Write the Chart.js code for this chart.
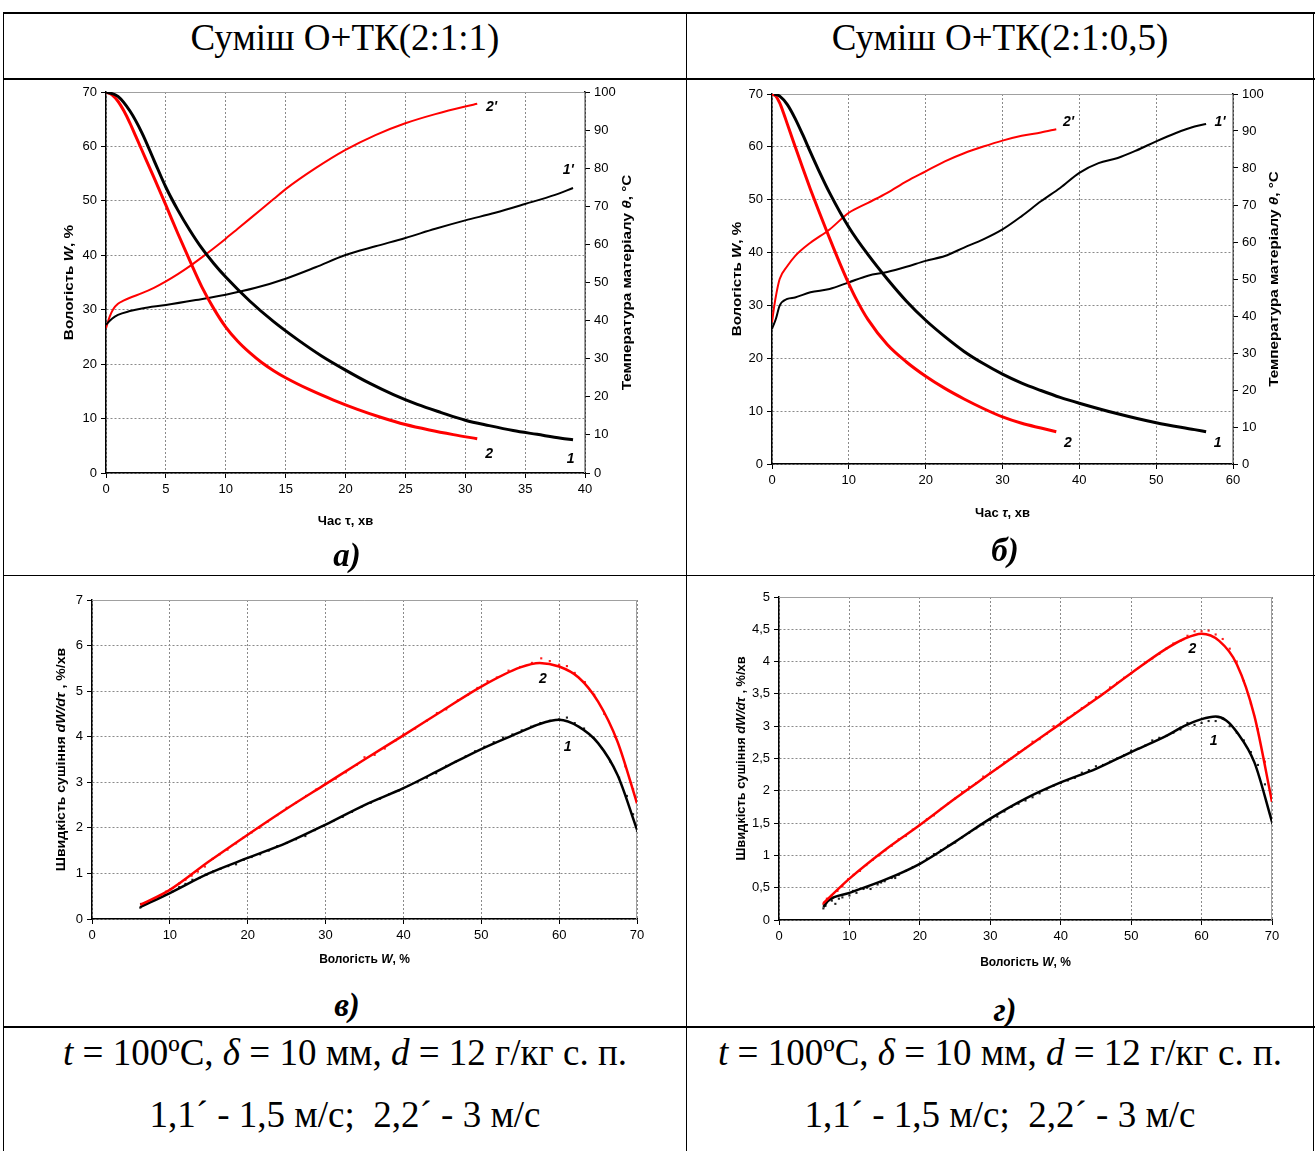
<!DOCTYPE html>
<html lang="uk">
<head>
<meta charset="utf-8">
<title>Кінетика сушіння суміші О+ТК</title>
<script src="https://cdn.jsdelivr.net/npm/chart.js@4.4.1/dist/chart.umd.min.js"></script>
<style>
    html, body { margin: 0; padding: 0; background: #fff; }
    #sheet { position: relative; width: 1315px; height: 1151px; overflow: hidden;
             font-family: 'Liberation Serif', 'Times New Roman', serif; color: #000; }
    .line { position: absolute; background: #000; }
    .txt { position: absolute; text-align: center; font-size: 37px; line-height: 40px; white-space: nowrap; }
    .sub { position: absolute; width: 80px; text-align: center; font-weight: bold; font-style: italic;
           font-size: 33px; line-height: 36px; z-index: 2; }
    canvas { position: absolute; }
</style>
</head>
<body>
<div id="sheet">
    <div class="line" style="left:3px; top:12px; width:1312px; height:2px"></div>
    <div class="line" style="left:3px; top:78px; width:1312px; height:2px"></div>
    <div class="line" style="left:3px; top:575px; width:1312px; height:1px"></div>
    <div class="line" style="left:3px; top:1026px; width:1312px; height:2px"></div>
    <div class="line" style="left:3px; top:12px; width:1px; height:1139px"></div>
    <div class="line" style="left:686px; top:12px; width:1px; height:1139px"></div>
    <div class="line" style="left:1313px; top:12px; width:1px; height:1139px"></div>

    <div class="txt" style="left:4px; width:682px; top:18px">Суміш О+ТК(2:1:1)</div>
    <div class="txt" style="left:687px; width:626px; top:18px">Суміш О+ТК(2:1:0,5)</div>

    <canvas id="chartA" width="610" height="474" style="left:40px; top:70px"></canvas>
    <canvas id="chartB" width="600" height="464" style="left:700px; top:70px"></canvas>
    <canvas id="chartC" width="630" height="404" style="left:30px; top:582px"></canvas>
    <canvas id="chartD" width="600" height="404" style="left:700px; top:582px"></canvas>

    <div class="sub" style="left:307px; top:537px">а)</div>
    <div class="sub" style="left:965px; top:532px">б)</div>
    <div class="sub" style="left:307px; top:987px">в)</div>
    <div class="sub" style="left:965px; top:992px">г)</div>

    <div class="txt" style="left:4px; width:682px; top:1033px"><i>t</i> = 100ºC, <i>δ</i> = 10 мм, <i>d</i> = 12 г/кг с. п.</div>
    <div class="txt" style="left:687px; width:626px; top:1033px"><i>t</i> = 100ºC, <i>δ</i> = 10 мм, <i>d</i> = 12 г/кг с. п.</div>
    <div class="txt" style="left:4px; width:682px; top:1095px">1,1´ - 1,5 м/с;&nbsp; 2,2´ - 3 м/с</div>
    <div class="txt" style="left:687px; width:626px; top:1095px">1,1´ - 1,5 м/с;&nbsp; 2,2´ - 3 м/с</div>
</div>

<script>
// а) О+ТК(2:1:1): вологість W, % та температура θ, °C від часу τ, хв
const timeA1 = [0, 1, 2, 3, 4, 5, 6, 7, 8, 9, 10, 12, 14, 16, 18, 20, 22, 24, 26, 28, 30, 32, 34, 36, 38, 39];
const moistA1 = [70, 69.2, 66.5, 62.5, 57.5, 52.5, 48.3, 44.6, 41.3, 38.5, 36, 31.6, 27.8, 24.5, 21.5, 18.9, 16.5, 14.4, 12.6, 11.1, 9.7, 8.7, 7.8, 7.1, 6.4, 6.1];
const timeA2 = [0, 0.5, 1, 1.5, 2, 2.5, 3, 4, 5, 6, 7, 8, 9, 10, 11, 12, 13, 14, 15, 17, 19, 21, 23, 25, 27, 29, 31];
const moistA2 = [70, 69.5, 68.3, 66.5, 64.3, 61.8, 59.3, 54.3, 49.2, 44, 39, 34.2, 30.2, 26.8, 24.2, 22.1, 20.3, 18.8, 17.5, 15.3, 13.4, 11.7, 10.2, 8.9, 7.9, 7.05, 6.3];
const timeTempA1 = [0, 0.5, 1, 2, 3, 5, 7.5, 10, 12.5, 15, 17.5, 20, 22.5, 25, 27.5, 30, 32.5, 35, 37.5, 39];
const tempA1 = [38.9, 40.5, 41.5, 42.5, 43.2, 44.1, 45.4, 46.8, 48.6, 51, 54, 57.2, 59.5, 61.7, 64.1, 66.3, 68.3, 70.6, 73, 74.8];
const timeTempA2 = [0, 0.3, 0.6, 1, 1.5, 2, 3, 4, 5, 6, 7, 8, 9, 10, 11, 12, 13, 14, 15, 17.5, 20, 22.5, 25, 27.5, 30, 31];
const tempA2 = [38, 41, 43, 44.4, 45.3, 46, 47.2, 48.6, 50.3, 52.2, 54.3, 56.6, 59, 61.5, 64.1, 66.7, 69.3, 71.9, 74.5, 80, 84.8, 88.7, 91.8, 94.2, 96.2, 96.9];

// б) О+ТК(2:1:0,5)
const timeB1 = [0.3, 1, 2, 3, 4, 5, 6, 7.5, 10, 12.5, 15, 17.5, 20, 22.5, 25, 27.5, 30, 32.5, 35, 37.5, 40, 45, 50, 55, 56.5];
const moistB1 = [70, 69.6, 68, 65.4, 62.3, 59, 55.8, 51.3, 44.8, 39.6, 35, 30.8, 27.2, 24.1, 21.3, 19, 17, 15.3, 13.9, 12.6, 11.5, 9.5, 7.8, 6.5, 6.1];
const timeB2 = [0, 0.5, 1, 1.5, 2, 2.5, 3, 4, 5, 6, 7, 8, 9, 10, 11, 12.5, 15, 17.5, 20, 22.5, 25, 27.5, 30, 32.5, 35, 37];
const moistB2 = [70, 69.6, 68.3, 66.4, 64.3, 62.2, 60.1, 56, 52, 48.2, 44.5, 40.9, 37.4, 34.1, 31.1, 27.3, 22.6, 19.3, 16.6, 14.3, 12.3, 10.5, 8.9, 7.7, 6.8, 6.1];
const timeTempB1 = [0, 0.5, 1, 2, 3, 5, 7.5, 10, 12.5, 15, 17.5, 20, 22.5, 25, 27.5, 30, 32.5, 35, 37.5, 40, 42.5, 45, 47.5, 50, 52.5, 55, 56.5];
const tempB1 = [36.5, 39.2, 42.8, 44.6, 45, 46.4, 47.3, 49.1, 50.9, 51.9, 53.3, 54.9, 56.2, 58.5, 60.7, 63.4, 67, 71, 74.6, 78.7, 81.3, 82.7, 84.8, 87.2, 89.4, 91.2, 91.9];
const timeTempB2 = [0, 0.3, 0.6, 1, 2, 3, 5, 7.5, 10, 12.5, 15, 17.5, 20, 22.5, 25, 27.5, 30, 32.5, 35, 37];
const tempB2 = [38.3, 42.8, 46.4, 50, 53.5, 56.2, 59.8, 63.4, 67.9, 70.6, 73.3, 76.4, 79.1, 81.8, 84, 85.8, 87.4, 88.7, 89.6, 90.5];

// в) швидкість сушіння dW/dτ від вологості, суміш 2:1:1
const moistC = [6.2, 10, 15, 20, 25, 30, 35, 40, 45, 50, 55, 57.5, 60, 62.5, 65, 67.5, 70];
const rateC1 = [0.26, 0.57, 1.0, 1.34, 1.67, 2.07, 2.5, 2.87, 3.3, 3.73, 4.1, 4.28, 4.37, 4.22, 3.86, 3.16, 1.96];
const rateC2 = [0.31, 0.64, 1.26, 1.85, 2.42, 2.96, 3.5, 4.03, 4.57, 5.1, 5.52, 5.62, 5.54, 5.3, 4.77, 3.89, 2.54];
const pointsC1 = [[6.2, 0.25], [6.3, 0.33], [7, 0.33], [7.8, 0.4], [8.6, 0.47], [9.4, 0.53], [10.3, 0.6], [11.2, 0.7], [12, 0.77], [12.9, 0.86],
    [13.8, 0.9], [14.7, 0.97], [15.6, 1.05], [16.5, 1.1], [17.5, 1.16], [18.5, 1.2], [19.5, 1.3], [20.5, 1.36], [21.6, 1.42], [22.7, 1.5],
    [23.8, 1.6], [25, 1.67], [26.2, 1.75], [27.4, 1.82], [28.6, 1.95], [29.8, 2.05], [31, 2.15], [32.2, 2.24], [33.4, 2.35], [34.6, 2.46],
    [35.8, 2.55], [37, 2.64], [38.2, 2.74], [39.4, 2.82], [40.6, 2.92], [41.8, 3.0], [43, 3.1], [44.2, 3.2], [45.5, 3.36], [46.7, 3.45],
    [48, 3.57], [49.2, 3.68], [50.4, 3.78], [51.6, 3.88], [52.8, 3.98], [54, 4.05], [55.2, 4.14], [56.4, 4.22], [57.6, 4.3], [58.8, 4.35],
    [60, 4.38], [61, 4.42], [62, 4.3], [63.2, 4.18], [64.4, 3.98], [65.5, 3.75], [66.6, 3.45], [67.7, 3.1], [68.7, 2.7], [69.5, 2.3], [70, 1.93]];
const pointsC2 = [[6.5, 0.3], [7.2, 0.36], [8, 0.44], [8.8, 0.52], [9.5, 0.6], [10.4, 0.68], [11.2, 0.78], [12, 0.86], [12.8, 0.95], [13.6, 1.04],
    [14.5, 1.15], [15.5, 1.32], [16.4, 1.42], [17.4, 1.52], [18.5, 1.66], [19.4, 1.78], [20.5, 1.9], [21.5, 2.0], [22.6, 2.14], [23.8, 2.28],
    [25, 2.44], [26.2, 2.55], [27.5, 2.7], [28.8, 2.84], [30, 2.97], [31.3, 3.08], [32.6, 3.22], [34, 3.38], [35, 3.55], [36.3, 3.6],
    [37.6, 3.74], [39, 3.92], [40, 4.05], [41.5, 4.18], [43, 4.35], [44.3, 4.52], [45.5, 4.6], [47, 4.8], [48.3, 4.92], [49.5, 5.07],
    [50.8, 5.22], [52, 5.3], [53.5, 5.45], [55, 5.53], [56.5, 5.62], [57.7, 5.72], [58.8, 5.66], [60, 5.58], [61, 5.55], [62, 5.4],
    [63.3, 5.2], [64.5, 4.92], [65.8, 4.5], [67.2, 4.0], [68.5, 3.35], [69.5, 2.85]];

// г) швидкість сушіння, суміш 2:1:0,5
const moistD1 = [6.3, 7, 10, 15, 20, 25, 30, 35, 40, 45, 50, 55, 57.5, 60, 62, 63.5, 65, 67.5, 70];
const rateD1 = [0.2, 0.3, 0.42, 0.62, 0.87, 1.21, 1.57, 1.88, 2.13, 2.34, 2.6, 2.85, 3.0, 3.11, 3.15, 3.09, 2.91, 2.44, 1.52];
const moistD2 = [6.3, 10, 15, 20, 25, 30, 35, 40, 45, 50, 55, 57.5, 60, 62.5, 65, 67.5, 70];
const rateD2 = [0.26, 0.64, 1.08, 1.47, 1.88, 2.27, 2.66, 3.04, 3.42, 3.82, 4.2, 4.35, 4.43, 4.32, 3.96, 3.16, 1.83];
const pointsD1 = [[6.3, 0.18], [6.6, 0.22], [7, 0.3], [7.5, 0.3], [8, 0.25], [8.5, 0.33], [9, 0.35], [10, 0.38], [10.5, 0.45], [11, 0.42],
    [12, 0.48], [12.5, 0.5], [13, 0.48], [14, 0.55], [14.5, 0.58], [15, 0.6], [16, 0.65], [16.5, 0.65], [17, 0.7], [18, 0.76],
    [19, 0.82], [20, 0.87], [21, 0.95], [22, 1.02], [23, 1.08], [24, 1.15], [25, 1.2], [26, 1.28], [27, 1.35], [28, 1.42],
    [29, 1.48], [30, 1.55], [31, 1.6], [32, 1.68], [33, 1.75], [34, 1.8], [35, 1.85], [36, 1.9], [37, 1.96], [38, 2.02],
    [39, 2.08], [40, 2.12], [41, 2.16], [42, 2.2], [43, 2.28], [44, 2.32], [45, 2.38], [46, 2.4], [47, 2.45], [48, 2.5],
    [49, 2.55], [50, 2.62], [51, 2.65], [52, 2.7], [53, 2.78], [54, 2.82], [55, 2.85], [56, 2.9], [57, 2.95], [58, 3.05],
    [59, 3.02], [60, 3.05], [61, 3.08], [62, 3.08], [63, 3.12], [64, 3.0], [65, 2.9], [66, 2.78], [67, 2.6], [68, 2.4], [69, 2.1], [70, 1.5]];
const pointsD2 = [[6.3, 0.25], [6.8, 0.33], [7.5, 0.38], [8.3, 0.45], [9, 0.52], [9.8, 0.63], [10.6, 0.7], [11.5, 0.76], [12.4, 0.85], [13.3, 0.93],
    [14.2, 1.0], [15.1, 1.08], [16, 1.15], [17, 1.25], [18, 1.3], [19, 1.4], [20, 1.48], [21, 1.56], [22, 1.62], [23, 1.72],
    [24, 1.8], [25, 1.88], [26, 1.98], [27, 2.06], [28, 2.12], [29, 2.22], [30, 2.28], [31, 2.35], [32, 2.44], [33, 2.5],
    [34, 2.6], [35, 2.66], [36, 2.76], [37, 2.8], [38, 2.88], [39, 3.0], [40, 3.04], [41, 3.13], [42, 3.2], [43, 3.28],
    [44, 3.36], [45, 3.45], [46, 3.5], [47, 3.6], [48, 3.67], [49, 3.75], [50, 3.82], [51, 3.9], [52, 3.98], [53, 4.05],
    [54, 4.12], [55, 4.2], [56, 4.28], [57, 4.32], [58, 4.4], [59, 4.47], [60, 4.47], [61, 4.48], [62, 4.42], [63, 4.35],
    [64, 4.2], [65, 4.0], [66, 3.7], [67, 3.35], [68, 2.95], [69, 2.45], [70, 1.85]];

const tickFont = { family: "'Liberation Sans Narrow', 'Liberation Sans', Arial, sans-serif", size: 13 };
const capFamily = "'Liberation Sans', Arial, sans-serif";
const narrowFamily = "'Liberation Sans Narrow', 'Liberation Sans', Arial, sans-serif";

const pairs = (xs, ys) => xs.map((x, i) => ({ x: x, y: ys[i] }));
const points = (list) => list.map(p => ({ x: p[0], y: p[1] }));

const curve = (data, color, width, axis) => ({
    data: data,
    showLine: true,
    borderColor: color,
    borderWidth: width,
    pointRadius: 0,
    cubicInterpolationMode: 'monotone',
    yAxisID: axis || 'y',
});

const markers = (data, color) => ({
    data: data,
    showLine: false,
    pointStyle: 'rect',
    pointRadius: 1.5,
    pointBackgroundColor: color,
    pointBorderWidth: 0,
});

const commaLabel = (v) => String(v).replace('.', ',');

const linearAxis = (max, step, position, fitSize, extra) => Object.assign({
    type: 'linear',
    position: position,
    min: 0,
    max: max,
    ticks: { stepSize: step, color: '#000', font: tickFont, padding: 4, maxRotation: 0 },
    grid: { color: '#8a8a8a', lineWidth: 1, tickColor: '#000', tickLength: 5 },
    border: { color: '#000', width: 1.5, dash: [2, 2] },
    afterFit: (scale) => {
        if (position === 'bottom') scale.height = fitSize;
        else scale.width = fitSize;
    },
}, extra || {});

// plot frame, rotated axis captions with italic symbols, and curve numbers
const sheetDecor = {
    id: 'sheetDecor',
    beforeDatasetsDraw(chart) {
        const { ctx, chartArea: a } = chart;
        ctx.save();
        ctx.strokeStyle = '#a0a0a0';
        ctx.lineWidth = 1;
        ctx.beginPath();
        ctx.moveTo(a.left, a.top + 0.5);
        ctx.lineTo(a.right - 0.5, a.top + 0.5);
        ctx.lineTo(a.right - 0.5, a.bottom);
        ctx.stroke();
        ctx.restore();
    },
    afterDraw(chart, args, opts) {
        const { ctx, chartArea: a } = chart;
        const midY = (a.top + a.bottom) / 2;
        const midX = (a.left + a.right) / 2;

        (opts.captions || []).forEach(c => {
            const size = c.size || 12;
            const family = c.family || capFamily;
            ctx.save();
            if (c.side === 'left') {
                ctx.translate(a.left - c.gap, midY);
                ctx.rotate(-Math.PI / 2);
            } else if (c.side === 'right') {
                ctx.translate(a.right + c.gap, midY);
                ctx.rotate(-Math.PI / 2);
            } else {
                ctx.translate(midX, a.bottom + c.gap);
            }
            // captions on the side axes run a little longer than their type size
            ctx.scale(c.stretch || 1, 1);
            ctx.fillStyle = '#000';
            ctx.textBaseline = 'middle';
            ctx.textAlign = 'left';
            let total = 0;
            c.parts.forEach(p => {
                ctx.font = `${p[1]} ${size}px ${family}`;
                total += ctx.measureText(p[0]).width;
            });
            let x = -total / 2;
            c.parts.forEach(p => {
                ctx.font = `${p[1]} ${size}px ${family}`;
                ctx.fillText(p[0], x, 0);
                x += ctx.measureText(p[0]).width;
            });
            ctx.restore();
        });

        (opts.tags || []).forEach(t => {
            const px = chart.scales.x.getPixelForValue(t.x);
            const py = chart.scales[t.axis || 'y'].getPixelForValue(t.y);
            ctx.save();
            ctx.fillStyle = '#000';
            ctx.font = `bold italic 14px ${capFamily}`;
            ctx.textAlign = 'center';
            ctx.textBaseline = 'middle';
            ctx.fillText(t.text, px, py);
            ctx.restore();
        });
    }
};
Chart.register(sheetDecor);

const baseOptions = (padding, scales, decor) => ({
    responsive: false,
    animation: false,
    events: [],
    layout: { padding: padding },
    scales: scales,
    plugins: {
        legend: { display: false },
        tooltip: { enabled: false },
        sheetDecor: decor,
    },
});

const moistureCaption = [['Вологість ', 'bold'], ['W', 'bold italic'], [', %', 'bold']];
const tempCaption = [['Температура матеріалу ', 'bold'], ['θ', 'bold italic'], [', °C', 'bold']];
const rateCaption = [['Швидкість сушіння ', 'bold'], ['dW/dτ', 'bold italic'], [' , %/хв', 'bold']];

const dryingChartA = () => {
    const ctx = document.getElementById('chartA').getContext('2d');
    new Chart(ctx, {
        type: 'scatter',
        data: {
            datasets: [
                curve(pairs(timeA1, moistA1), '#000', 3),
                curve(pairs(timeA2, moistA2), '#ff0000', 3),
                curve(pairs(timeTempA1, tempA1), '#000', 2, 'y2'),
                curve(pairs(timeTempA2, tempA2), '#ff0000', 2, 'y2'),
            ]
        },
        options: baseOptions({ top: 22, left: 0, right: 0, bottom: 0 }, {
            x: linearAxis(40, 5, 'bottom', 71),
            y: linearAxis(70, 10, 'left', 66),
            y2: linearAxis(100, 10, 'right', 65, { axis: 'y', grid: { drawOnChartArea: false, tickColor: '#000', tickLength: 5 } }),
        }, {
            captions: [
                { side: 'left', gap: 36, stretch: 1.27, parts: moistureCaption },
                { side: 'right', gap: 43, stretch: 1.27, parts: tempCaption },
                { side: 'bottom', gap: 48, size: 13, family: narrowFamily, parts: [['Час τ, хв', 'bold']] },
            ],
            tags: [
                { text: "2'", x: 32.2, y: 96, axis: 'y2' },
                { text: "1'", x: 38.6, y: 79.5, axis: 'y2' },
                { text: '2', x: 32, y: 3.4 },
                { text: '1', x: 38.8, y: 2.6 },
            ]
        })
    });
};
document.addEventListener('DOMContentLoaded', dryingChartA);

const dryingChartB = () => {
    const ctx = document.getElementById('chartB').getContext('2d');
    new Chart(ctx, {
        type: 'scatter',
        data: {
            datasets: [
                curve(pairs(timeB1, moistB1), '#000', 3),
                curve(pairs(timeB2, moistB2), '#ff0000', 3),
                curve(pairs(timeTempB1, tempB1), '#000', 2, 'y2'),
                curve(pairs(timeTempB2, tempB2), '#ff0000', 2, 'y2'),
            ]
        },
        options: baseOptions({ top: 24, left: 0, right: 0, bottom: 0 }, {
            x: linearAxis(60, 10, 'bottom', 70),
            y: linearAxis(70, 10, 'left', 72),
            y2: linearAxis(100, 10, 'right', 67, { axis: 'y', grid: { drawOnChartArea: false, tickColor: '#000', tickLength: 5 } }),
        }, {
            captions: [
                { side: 'left', gap: 34, stretch: 1.26, parts: moistureCaption },
                { side: 'right', gap: 42, stretch: 1.27, parts: tempCaption },
                { side: 'bottom', gap: 49, size: 13, family: narrowFamily, parts: [['Час ', 'bold'], ['τ', 'bold italic'], [', хв', 'bold']] },
            ],
            tags: [
                { text: "2'", x: 38.6, y: 92.3, axis: 'y2' },
                { text: "1'", x: 58.3, y: 92.3, axis: 'y2' },
                { text: '2', x: 38.5, y: 3.9 },
                { text: '1', x: 58, y: 3.9 },
            ]
        })
    });
};
document.addEventListener('DOMContentLoaded', dryingChartB);

const rateChartC = () => {
    const ctx = document.getElementById('chartC').getContext('2d');
    new Chart(ctx, {
        type: 'scatter',
        data: {
            datasets: [
                curve(pairs(moistC, rateC2), '#ff0000', 2.5),
                curve(pairs(moistC, rateC1), '#000', 2.5),
                markers(points(pointsC2), '#ff2020'),
                markers(points(pointsC1), '#222'),
            ]
        },
        options: baseOptions({ top: 18, left: 0, right: 23, bottom: 0 }, {
            x: linearAxis(70, 10, 'bottom', 67),
            y: linearAxis(7, 1, 'left', 62),
        }, {
            captions: [
                { side: 'left', gap: 30, stretch: 1.17, parts: rateCaption },
                { side: 'bottom', gap: 41, parts: moistureCaption },
            ],
            tags: [
                { text: '2', x: 57.9, y: 5.27 },
                { text: '1', x: 61.1, y: 3.77 },
            ]
        })
    });
};
document.addEventListener('DOMContentLoaded', rateChartC);

const rateChartD = () => {
    const ctx = document.getElementById('chartD').getContext('2d');
    const y = linearAxis(5, 0.5, 'left', 79);
    y.ticks.callback = commaLabel;
    new Chart(ctx, {
        type: 'scatter',
        data: {
            datasets: [
                curve(pairs(moistD2, rateD2), '#ff0000', 2.5),
                curve(pairs(moistD1, rateD1), '#000', 2.5),
                markers(points(pointsD2), '#ff2020'),
                markers(points(pointsD1), '#222'),
            ]
        },
        options: baseOptions({ top: 15, left: 0, right: 28, bottom: 0 }, {
            x: linearAxis(70, 10, 'bottom', 66),
            y: y,
        }, {
            captions: [
                { side: 'left', gap: 37, stretch: 1.07, parts: rateCaption },
                { side: 'bottom', gap: 43, parts: moistureCaption },
            ],
            tags: [
                { text: '2', x: 58.7, y: 4.2 },
                { text: '1', x: 61.7, y: 2.77 },
            ]
        })
    });
};
document.addEventListener('DOMContentLoaded', rateChartD);
</script>
</body>
</html>
